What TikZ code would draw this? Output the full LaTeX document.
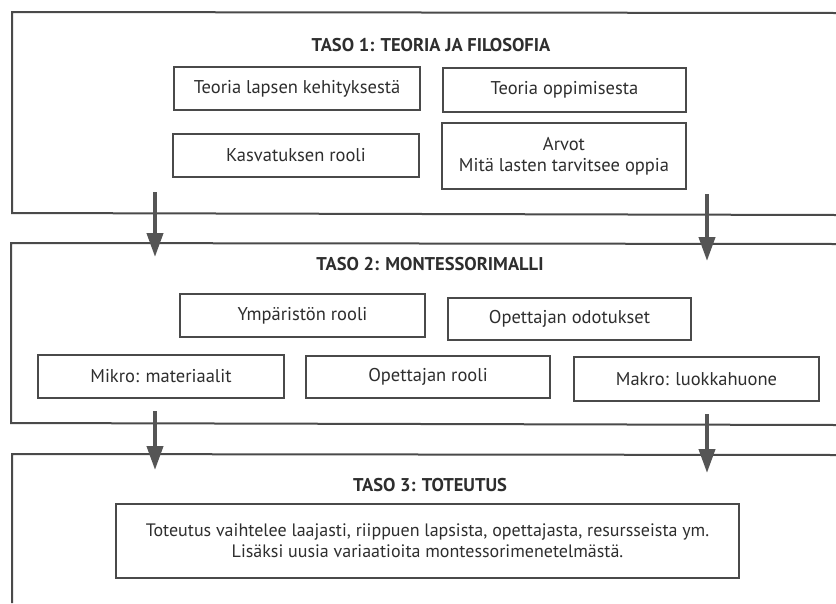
\documentclass[tikz,border=0pt]{standalone}
\usepackage{fontspec}
\setmainfont{PT Sans}
\usetikzlibrary{arrows.meta}
\definecolor{ink}{HTML}{2E2E2E}
\definecolor{frame}{HTML}{4A4A4A}
\definecolor{arrowgray}{HTML}{555555}
\tikzset{
  panel/.style={draw=frame, line width=2pt},
  itembox/.style={draw=frame, line width=1.1pt, text=ink, align=center,
    font=\fontsize{18.5}{21}\selectfont, inner sep=0pt},
  paneltitle/.style={text=ink, font=\fontsize{18.5}{21}\selectfont\bfseries},
  flow/.style={draw=arrowgray, line width=4pt,
    -{Triangle[width=16pt,length=24pt]}, arrowgray},
}
\newcommand{\itemat}[6]{%
  \node[itembox, minimum width=#4-#2, minimum height=#5-#3]
    (#1) at ({(#2+#4)/2},{(#3+#5)/2}) {#6};}
\begin{document}
\begin{tikzpicture}[x=1pt, y=-1pt]
\useasboundingbox (0,0) rectangle (836,603);
\fill[white] (0,0) rectangle (836,603);

% level frames, open to the right
\draw[panel] (836,13) -- (12,12) -- (12,213) -- (836,215);
\draw[panel] (836,244) -- (11,243) -- (11,423) -- (836,425);
\draw[panel] (836,455) -- (12,454) -- (12,603);

% level 1
\node[paneltitle] (t1) at (431,45) {TASO 1: TEORIA JA FILOSOFIA};
\itemat{lapsi}{174}{67}{420}{110}{Teoria lapsen kehityksestä}
\itemat{oppi}{443}{68}{686}{112}{Teoria oppimisesta}
\itemat{kasv}{173}{134}{419}{177}{Kasvatuksen rooli}
\itemat{arvot}{442}{123}{686}{189}{Arvot\\Mitä lasten tarvitsee oppia}

% level 2
\node[paneltitle] (t2) at (430,264) {TASO 2: MONTESSORIMALLI};
\itemat{ymp}{180}{294}{425}{337}{Ympäristön rooli}
\itemat{odot}{448}{298}{691}{340}{Opettajan odotukset}
\itemat{mikro}{38}{355}{284}{398}{Mikro: materiaalit}
\itemat{rooli}{306}{356}{550}{398}{Opettajan rooli}
\itemat{makro}{574}{357}{819}{401}{Makro: luokkahuone}

% level 3
\node[paneltitle] (t3) at (430,485) {TASO 3: TOTEUTUS};
\itemat{tot}{116}{504}{739}{578}{\fontsize{18}{21}\selectfont Toteutus vaihtelee laajasti, riippuen lapsista, opettajasta, resursseista ym.\\\fontsize{18}{21}\selectfont Lisäksi uusia variaatioita montessorimenetelmästä.}

% connectors between levels
\coordinate (a1s) at (155,192); \coordinate (a1e) at (155,257);
\coordinate (a2s) at (707,194); \coordinate (a2e) at (707,261);
\coordinate (a3s) at (155,411); \coordinate (a3e) at (155,470);
\coordinate (a4s) at (707,414); \coordinate (a4e) at (707,473);
\draw[flow] (a1s) -- (a1e);
\draw[flow] (a2s) -- (a2e);
\draw[flow] (a3s) -- (a3e);
\draw[flow] (a4s) -- (a4e);
\end{tikzpicture}
\end{document}
